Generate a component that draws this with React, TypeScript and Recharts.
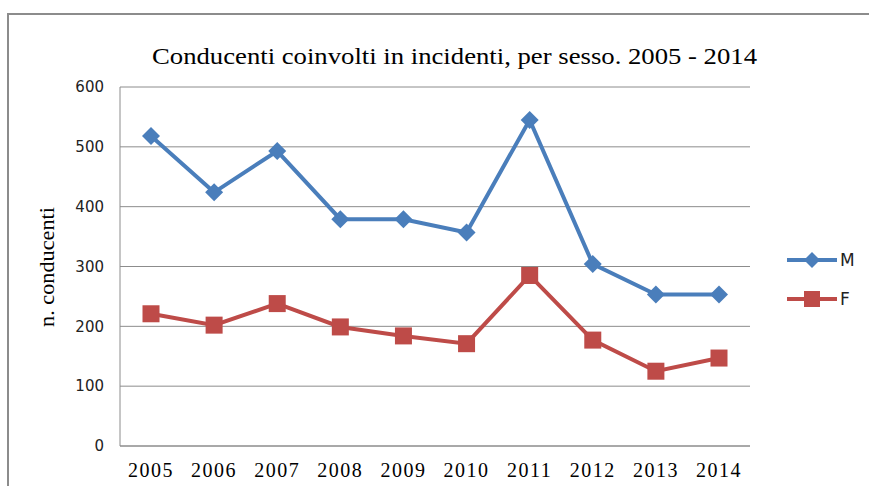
import React from "react";
import { LineChart, Line, XAxis, YAxis, CartesianGrid } from "recharts";

const years = ["2005", "2006", "2007", "2008", "2009", "2010", "2011", "2012", "2013", "2014"];
const maschi = [518, 424, 493, 379, 379, 357, 545, 304, 253, 253];
const femmine = [221, 202, 238, 199, 184, 171, 285, 177, 125, 147];
const yTicks = [0, 100, 200, 300, 400, 500, 600];
const seriesNames = ["M", "F"];

const data = years.map((year, i) => ({ year, M: maschi[i], F: femmine[i] }));

const BLUE = "#4a7ebb";
const RED = "#be4b48";
const GRID = "#8c8c8c";
const colors: Record<string, string> = { M: BLUE, F: RED };

const Diamond = (props: any) => {
  const { cx, cy, index } = props;
  if (cx == null || cy == null) return null;
  const r = 9;
  return (
    <polygon
      key={`d-${index}`}
      points={`${cx},${cy - r} ${cx + r},${cy} ${cx},${cy + r} ${cx - r},${cy}`}
      fill={BLUE}
    />
  );
};

const Square = (props: any) => {
  const { cx, cy, index } = props;
  if (cx == null || cy == null) return null;
  const s = 17;
  return <rect key={`s-${index}`} x={cx - s / 2} y={cy - s / 2} width={s} height={s} fill={RED} />;
};

function LegendBox() {
  return (
    <g transform="translate(786 248)">
      {seriesNames.map((name, i) => {
        const y = 12 + i * 39;
        const color = colors[name];
        return (
          <g key={name}>
            <line x1={1} x2={51} y1={y} y2={y} stroke={color} strokeWidth={4} />
            {name === "M" ? (
              <polygon points={`26,${y - 8} 34,${y} 26,${y + 8} 18,${y}`} fill={color} />
            ) : (
              <rect x={18} y={y - 8} width={16} height={16} fill={color} />
            )}
            <text
              x={54}
              y={y}
              dominantBaseline="central"
              fontFamily="DejaVu Sans"
              fontSize={17}
              fill="#222"
            >
              {name}
            </text>
          </g>
        );
      })}
    </g>
  );
}

export default function App() {
  return (
    <div
      style={{
        position: "fixed",
        left: 0,
        top: 0,
        width: 869,
        height: 486,
        background: "#fff",
        overflow: "hidden",
      }}
    >
      <div
        style={{
          position: "absolute",
          left: 7,
          top: 13,
          width: 900,
          height: 520,
          borderTop: `2px solid ${GRID}`,
          borderLeft: `2px solid ${GRID}`,
        }}
      />
      <div style={{ position: "absolute", left: 0, top: 0 }}>
        <LineChart
          width={869}
          height={486}
          data={data}
          margin={{ top: 87, right: 119, bottom: 0, left: 60 }}
        >
          <CartesianGrid vertical={false} stroke={GRID} strokeWidth={1} />
          <XAxis
            dataKey="year"
            padding={{ left: 31, right: 31 }}
            axisLine={{ stroke: GRID }}
            tickLine={false}
            tickMargin={11}
            height={40}
            tick={{
              fontFamily: "Liberation Serif",
              fontSize: 20,
              fill: "#000",
              letterSpacing: 1.5,
            }}
          />
          <YAxis
            width={60}
            domain={[0, 600]}
            ticks={yTicks}
            axisLine={{ stroke: GRID }}
            tickLine={false}
            tickSize={6}
            tickMargin={10}
            tick={{ fontFamily: "DejaVu Sans", fontSize: 15, fill: "#222" }}
          />
          <Line
            dataKey="M"
            name="M"
            stroke={BLUE}
            strokeWidth={4}
            dot={<Diamond />}
            activeDot={false}
            isAnimationActive={false}
          />
          <Line
            dataKey="F"
            name="F"
            stroke={RED}
            strokeWidth={4}
            dot={<Square />}
            activeDot={false}
            isAnimationActive={false}
          />
        </LineChart>
      </div>
      <svg
        width={869}
        height={486}
        style={{ position: "absolute", left: 0, top: 0, pointerEvents: "none" }}
      >
        <text
          x={152}
          y={64}
          fontFamily="Liberation Serif"
          fontSize={24}
          textLength={605}
          lengthAdjust="spacingAndGlyphs"
          fill="#000"
        >
          Conducenti coinvolti in incidenti, per sesso. 2005 - 2014
        </text>
        <text
          x={0}
          y={0}
          transform="translate(54 267) rotate(-90)"
          textAnchor="middle"
          fontFamily="Liberation Serif"
          fontSize={21}
          textLength={120}
          lengthAdjust="spacingAndGlyphs"
          fill="#000"
        >
          n. conducenti
        </text>
        <LegendBox />
      </svg>
    </div>
  );
}
